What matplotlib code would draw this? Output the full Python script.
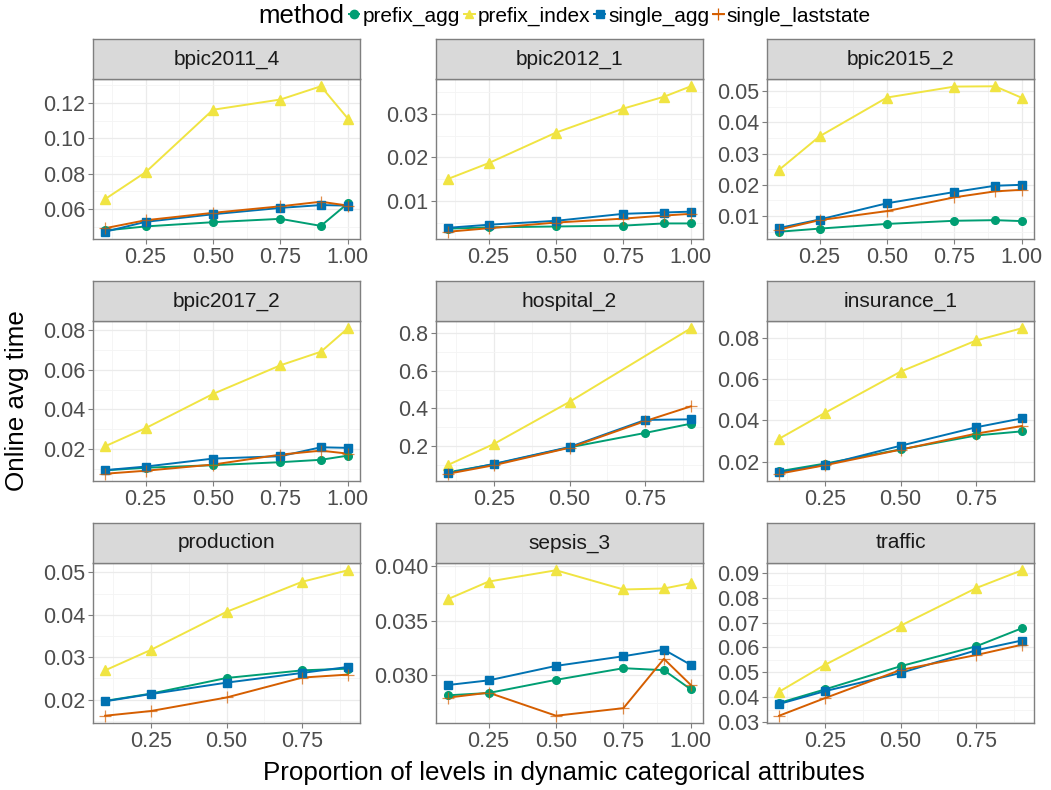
import matplotlib
matplotlib.use("Agg")
import matplotlib.pyplot as plt
from matplotlib.lines import Line2D
from matplotlib.ticker import FixedLocator, FormatStrFormatter
import numpy as np

plt.rcParams['font.family'] = ['Liberation Sans', 'DejaVu Sans']

methods = ["prefix_agg", "prefix_index", "single_agg", "single_laststate"]
colors = ["#009E73", "#F0E442", "#0072B2", "#D55E00"]
markers = ["o", "^", "s", "+"]

x_full = [0.1, 0.25, 0.5, 0.75, 0.9, 1.0]
x_short = [0.1, 0.25, 0.5, 0.75, 0.9]
nan = np.nan

# values, one dict of series per dataset
bpic2011_4 = {
    "prefix_agg": [0.0478, 0.0501, 0.0525, 0.0544, 0.0504, 0.0632],
    "prefix_index": [0.0656, 0.0808, 0.1162, 0.1220, 0.1295, 0.1112],
    "single_agg": [0.0471, 0.0527, 0.0570, 0.0606, 0.0622, 0.0619],
    "single_laststate": [0.0491, 0.0536, 0.0578, 0.0615, 0.0641, 0.0619],
}
bpic2012_1 = {
    "prefix_agg": [0.0037, 0.0040, 0.0042, 0.0044, 0.0049, 0.0049],
    "prefix_index": [0.0151, 0.0187, 0.0257, 0.0312, 0.0339, 0.0363],
    "single_agg": [0.0039, 0.0046, 0.0055, 0.0071, 0.0074, 0.0076],
    "single_laststate": [0.0030, 0.0038, 0.0051, 0.0060, 0.0067, 0.0071],
}
bpic2015_2 = {
    "prefix_agg": [0.0050, 0.0060, 0.0075, 0.0085, 0.0087, 0.0084],
    "prefix_index": [0.0248, 0.0355, 0.0479, 0.0514, 0.0515, 0.0478],
    "single_agg": [0.0062, 0.0089, 0.0141, 0.0177, 0.0197, 0.0200],
    "single_laststate": [0.0057, 0.0087, 0.0116, 0.0160, 0.0179, 0.0184],
}
bpic2017_2 = {
    "prefix_agg": [0.0094, 0.0107, 0.0120, 0.0135, 0.0147, 0.0168],
    "prefix_index": [0.0215, 0.0306, 0.0478, 0.0622, 0.0690, 0.0808],
    "single_agg": [0.0095, 0.0113, 0.0153, 0.0165, 0.0210, 0.0207],
    "single_laststate": [0.0077, 0.0092, 0.0123, 0.0173, 0.0193, 0.0178],
}
hospital_2 = {
    "prefix_agg": [0.061, 0.103, 0.193, 0.270, 0.319],
    "prefix_index": [0.100, 0.2105, 0.435, nan, 0.826],
    "single_agg": [0.056, 0.105, 0.195, 0.339, 0.342],
    "single_laststate": [0.053, 0.098, 0.191, 0.333, 0.411],
}
insurance_1 = {
    "prefix_agg": [0.0153, 0.0190, 0.0259, 0.0327, 0.0347],
    "prefix_index": [0.0311, 0.0436, 0.0637, 0.0789, 0.0848],
    "single_agg": [0.0147, 0.0184, 0.0277, 0.0367, 0.0410],
    "single_laststate": [0.0141, 0.0182, 0.0258, 0.0336, 0.0373],
}
production = {
    "prefix_agg": [0.0197, 0.0214, 0.0251, 0.0269, 0.0273],
    "prefix_index": [0.0269, 0.0317, 0.0407, 0.0478, 0.0505],
    "single_agg": [0.0196, 0.0213, 0.0240, 0.0263, 0.0277],
    "single_laststate": [0.0162, 0.0173, 0.0205, 0.0252, 0.0259],
}
sepsis_3 = {
    "prefix_agg": [0.02819, 0.02840, 0.02960, 0.03066, 0.03048, 0.02873],
    "prefix_index": [0.03696, 0.03855, 0.03958, 0.03783, 0.03792, 0.03840],
    "single_agg": [0.02913, 0.02955, 0.03087, 0.03175, 0.03235, 0.03096],
    "single_laststate": [0.02798, 0.02843, 0.02633, 0.02702, 0.03151, 0.02913],
}
traffic = {
    "prefix_agg": [0.0378, 0.0432, 0.0525, 0.0605, 0.0677],
    "prefix_index": [0.0423, 0.0530, 0.0687, 0.0838, 0.0909],
    "single_agg": [0.0374, 0.0425, 0.0498, 0.0589, 0.0628],
    "single_laststate": [0.0327, 0.0397, 0.0510, 0.0570, 0.0611],
}

panel_names = ["bpic2011_4", "bpic2012_1", "bpic2015_2", "bpic2017_2", "hospital_2",
               "insurance_1", "production", "sepsis_3", "traffic"]
panel_data = [bpic2011_4, bpic2012_1, bpic2015_2, bpic2017_2, hospital_2,
              insurance_1, production, sepsis_3, traffic]
panel_x = [x_full, x_full, x_full, x_full, x_short, x_short, x_short, x_full, x_short]
panel_yticks = [
    [0.06, 0.08, 0.10, 0.12],
    [0.01, 0.02, 0.03],
    [0.01, 0.02, 0.03, 0.04, 0.05],
    [0.02, 0.04, 0.06, 0.08],
    [0.2, 0.4, 0.6, 0.8],
    [0.02, 0.04, 0.06, 0.08],
    [0.02, 0.03, 0.04, 0.05],
    [0.030, 0.035, 0.040],
    [0.03, 0.04, 0.05, 0.06, 0.07, 0.08, 0.09],
]
panel_yfmt = ["%.2f", "%.2f", "%.2f", "%.2f", "%.1f", "%.2f", "%.2f", "%.3f", "%.2f"]
xticks = [0.25, 0.5, 0.75, 1.0]


def expand(lo, hi, mult=0.05):
    span = hi - lo
    return lo - mult * span, hi + mult * span


def minor_breaks(major, lo, hi):
    step = major[1] - major[0]
    ext = [major[0] - step] + list(major) + [major[-1] + step]
    mids = [(a + b) / 2 for a, b in zip(ext[:-1], ext[1:])]
    return [m for m in mids if lo <= m <= hi]


W, H = 1051, 790
fig = plt.figure(figsize=(W / 100, H / 100), dpi=100)

col_left = [93, 436, 767]
col_w = 267
row_top = [79, 321, 563]
panel_h = 160
strip_h = 40
border = "#7F7F7F"

for i, name in enumerate(panel_names):
    r, c = divmod(i, 3)
    l, t = col_left[c], row_top[r]
    ax = fig.add_axes([l / W, 1 - (t + panel_h) / H, col_w / W, panel_h / H])
    strip = fig.add_axes([l / W, 1 - t / H, col_w / W, strip_h / H])

    xs = np.array(panel_x[i])
    data = panel_data[i]
    allv = np.concatenate([np.array(data[m], dtype=float) for m in methods])
    ylo, yhi = expand(np.nanmin(allv), np.nanmax(allv))
    xlo, xhi = expand(xs.min(), xs.max())

    for m, col in zip(methods, colors):
        ys = np.array(data[m], dtype=float)
        ok = np.isfinite(ys)
        ax.plot(xs[ok], ys[ok], color=col, lw=1.4, zorder=3)
    for m, col, mk in zip(methods, colors, markers):
        ys = np.array(data[m], dtype=float)
        ok = np.isfinite(ys)
        if mk == "+":
            ax.plot(xs[ok], ys[ok], ls="none", marker=mk, ms=9, mew=0.9,
                    color=col, alpha=0.7, zorder=4)
        else:
            size = {"o": 5.5, "^": 6.5, "s": 6}[mk]
            ax.plot(xs[ok], ys[ok], ls="none", marker=mk, ms=size,
                    color=col, mec=col, zorder=4)

    ax.set_xlim(xlo, xhi)
    ax.set_ylim(ylo, yhi)
    yt = [v for v in panel_yticks[i] if ylo <= v <= yhi]
    ax.yaxis.set_major_locator(FixedLocator(yt))
    ax.yaxis.set_minor_locator(FixedLocator(minor_breaks(panel_yticks[i], ylo, yhi)))
    ax.yaxis.set_major_formatter(FormatStrFormatter(panel_yfmt[i]))
    xt = [v for v in xticks if xlo <= v <= xhi]
    ax.xaxis.set_major_locator(FixedLocator(xt))
    ax.xaxis.set_minor_locator(FixedLocator(minor_breaks(xticks, xlo, xhi)))
    ax.xaxis.set_major_formatter(FormatStrFormatter("%.2f"))

    ax.grid(which="major", color="#EBEBEB", lw=0.9, zorder=0)
    ax.grid(which="minor", color="#F4F4F4", lw=0.6, zorder=0)
    ax.set_axisbelow(True)
    ax.tick_params(which="major", length=3.5, width=0.8, color=border,
                   labelcolor="#4D4D4D", labelsize=15.5, pad=2)
    ax.tick_params(which="minor", length=0)
    for sp in ax.spines.values():
        sp.set_color(border)
        sp.set_linewidth(1.0)

    strip.set_facecolor("#D9D9D9")
    strip.set_xticks([])
    strip.set_yticks([])
    for sp in strip.spines.values():
        sp.set_color(border)
        sp.set_linewidth(1.0)
    strip.text(0.5, 0.5, name, ha="center", va="center", fontsize=15,
               color="#1A1A1A", transform=strip.transAxes)

fig.text(563.5 / W, 1 - 773 / H, "Proportion of levels in dynamic categorical attributes",
         ha="center", va="center", fontsize=18.7)
fig.text(17 / W, 1 - 401 / H, "Online avg time", ha="center", va="center",
         rotation=90, fontsize=18.7)

fig.text(258 / W, 1 - 16 / H, "method", ha="left", va="center", fontsize=18.5)
handles = []
for col, mk in zip(colors, markers):
    if mk == "+":
        handles.append(Line2D([0], [0], color=col, lw=1.4, marker=mk, ms=9, mew=0.9))
    else:
        handles.append(Line2D([0], [0], color=col, lw=1.4, marker=mk, ms=6))
fig.legend(handles, methods, ncol=4, loc="center left",
           bbox_to_anchor=(349 / W, 1 - 16 / H), frameon=False, fontsize=15,
           handlelength=0.5, handletextpad=0.15, columnspacing=0.2, borderpad=0,
           borderaxespad=0)

fig.savefig("out.png", dpi=100)
